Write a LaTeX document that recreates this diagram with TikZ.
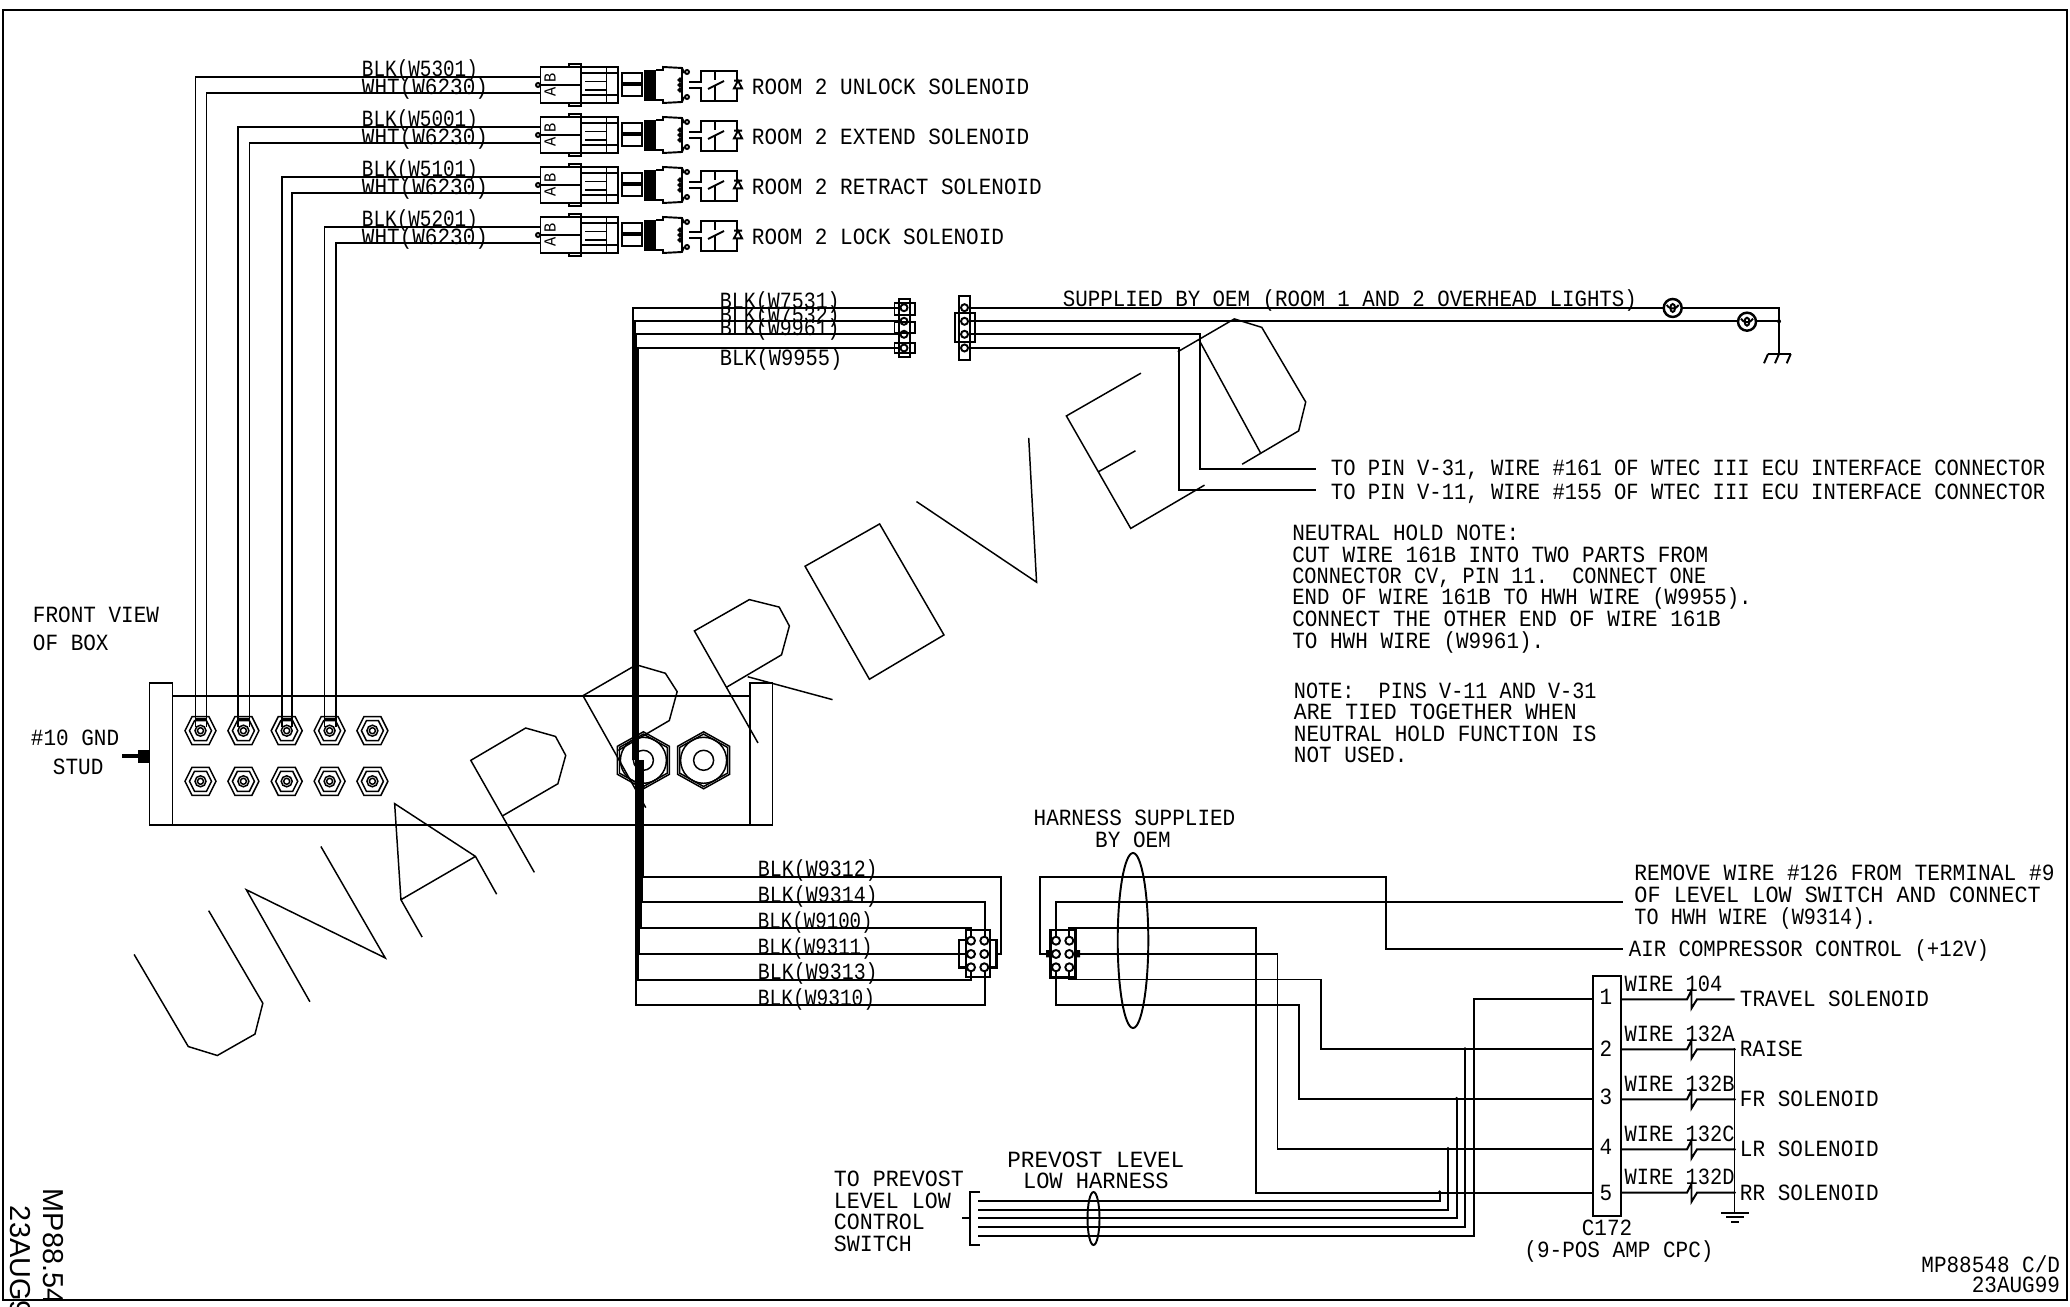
\documentclass[tikz,border=0pt]{standalone}
\usepackage{fontspec}
\setmonofont[FakeStretch=0.905]{Liberation Mono}
\setsansfont{Liberation Sans}
\usepackage{xcolor}
\usetikzlibrary{positioning}
\newcommand{\cadfont}{\ttfamily\fontsize{6.6}{7}\selectfont}
\newcommand{\sx}[2]{\scalebox{#1}[1]{#2}}
\tikzset{
	lbl/.style={inner sep=0pt, anchor=west, font=\cadfont, text height=4.35pt, text depth=0pt},
	midlbl/.style={lbl, anchor=center},
	heavy/.style={line width=0.8pt},
	fineline/.style={line width=0.42pt},
	solenoid/.pic={
		\draw (0.5,-18) rectangle (78,18);
		\draw (0.5,0) -- (40.6,0);
		\draw (40.6,-18) -- (40.6,18);
		\draw (29,-18) -- (29,-21) -- (40.6,-21) -- (40.6,-18);
		\draw (29,18) -- (29,21) -- (40.6,21) -- (40.6,18);
		\draw (40.6,-11.7) -- (78,-11.7) (40.6,10) -- (78,10);
		\draw (45,-3.5) -- (66.5,-3.5) (45,5) -- (66.5,5);
		\draw (66.5,-18) -- (66.5,18);
		\draw (-2,0) circle (2);
		\path (10,-7) node[rotate=90, inner sep=0pt, font=\ttfamily\fontsize{4.8}{5}\selectfont] (b) {B};
		\path (10,7) node[rotate=90, inner sep=0pt, font=\ttfamily\fontsize{4.8}{5}\selectfont] (a) {A};
		\draw (81.6,-12) rectangle (102,-2) (81.6,0) rectangle (102,11);
		\fill (104,-15) rectangle (116,15.7);
		\draw (116,-15) -- (123,-15) -- (123,-18) -- (142,-17) -- (144,-12) (144,12) -- (142,17) -- (123,18) -- (123,15) -- (116,15);
		\draw (142,-17) -- (142,17);
		\foreach \v in {-13,12} \draw (147,\v) circle (2);
		\foreach \v in {-5,0,5} \draw (140,\v) circle (1.6);
		\draw (149,-3) -- (161,-3) -- (161,-14.3) -- (197,-14.3) -- (197,15.7) -- (161,15.7) -- (161,3) -- (149,3);
		\draw (175,-14.3) -- (175,-5) (168,4) -- (184,-4) (175,0) -- (175,15.7);
		\fill[white] (194,-4) rectangle (202,3);
		\draw (194,3.3) -- (202,3.3) -- (198,-4.3) -- cycle (194,-4.3) -- (202,-4.3);
	},
	studnut/.pic={
		\draw[fineline] (-15.5,0) -- (-8.5,-14) -- (8.5,-14) -- (15.5,0) -- (8.5,14) -- (-8.5,14) -- cycle;
		\draw[fineline] (-11,0) -- (-6,-10) -- (6,-10) -- (11,0) -- (6,10) -- (-6,10) -- cycle;
		\draw[fineline] (0,0) circle (5.5) (0,0) circle (3);
	},
	bignut/.pic={
		\foreach \f in {1,0.92}
		\draw[fineline] (0,-28.5*\f) -- (26*\f,-14*\f) -- (26*\f,14*\f) -- (0,28.5*\f) -- (-26*\f,14*\f) -- (-26*\f,-14*\f) -- cycle;
		\draw[fineline] (0,0) circle (10);
	},
	lamp/.pic={
		\draw[fill=white, line width=0.7pt] (0,0) circle (9);
		\draw (-6,-3) arc (150:30:6.9);
		\draw (0,0) ellipse (2.4 and 4);
	},
}

\begin{document}
\begin{tikzpicture}[x=0.01cm, y=-0.01cm, line width=0.55pt]
	\useasboundingbox (0,0) rectangle (2070,1307);
	\draw[line width=0.6pt] (3,10) rectangle (2067,1300);

	% room 2 solenoids
	\foreach \y/\xo/\xi/\wa/\txt [count=\n] in {85/195.5/206.5/5301/UNLOCK, 135/238/249.5/5001/EXTEND, 185/281.6/292/5101/RETRACT, 235/324.5/335.7/5201/LOCK}{
		\pic (sol\n) at (540,\y) {solenoid};
		\coordinate (blkend\n) at (540,\y-8.3);
		\coordinate (whtend\n) at (540,\y+8.3);
		\draw (blkend\n) -- (\xo,\y-8.3) -- (\xo,727);
		\draw (whtend\n) -- (\xi,\y+8.3) -- (\xi,727);
		\draw (\xo,719) -- (\xi,719);
		\node[lbl] (blk\n) at (361,\y-16) {\sx{0.92}{BLK(W\wa)}};
		\node[lbl] (wht\n) at (361,\y+1.5) {WHT(W6230)};
		\node[lbl] (room\n) at (751,\y+2) {ROOM 2 \txt\ SOLENOID};
	}

	% box with the studs
	\draw (149.5,682.7) rectangle (172.5,825);
	\draw (750,682.7) rectangle (772.5,825);
	\draw (172.5,695.7) -- (750,695.7) (172.5,825) -- (750,825);
	\foreach \x in {200.5,243.4,286.7,329.6,372.4}{
		\pic at (\x,730.7) {studnut};
		\pic at (\x,781.3) {studnut};
	}
	\pic at (643.4,760.3) {bignut};
	\pic at (703.6,760.3) {bignut};
	\draw[fineline] (643.4,760.3) circle (23);
	\draw[fineline] (703.6,760.3) circle (23);
	\fill (122,754) rectangle (138,758);
	\fill (138,750) rectangle (149.5,763);
	\node[lbl] (front) at (32,615) {FRONT VIEW};
	\node[lbl] (ofbox) at (32,643) {OF BOX};
	\node[lbl] (gnd) at (30,738) {\#10 GND};
	\node[lbl] (stud) at (52,767) {STUD};

	% upper pair of connectors
	\foreach \y [count=\n] in {307.7,321.3,334.3,348}{
		\coordinate (tl\n) at (899,\y);
		\coordinate (tr\n) at (970,\y);
		\draw (904,\y) circle (3.5) (964.5,\y) circle (3.5);
	}
	\draw[heavy] (899,299) rectangle (910,357);
	\draw (894.5,303) rectangle (914.6,315) (894.5,322) rectangle (914.6,333) (894.5,343) rectangle (914.6,353);
	\draw (959,296) rectangle (970,360);
	\draw (955,313) rectangle (975,342);
	\draw (tl1) -- (633.4,307.7) -- (633.4,760);
	\draw (tl2) -- (635,321.3) -- (635,760);
	\draw (tl3) -- (636.5,334.3) -- (636.5,760);
	\draw (tl4) -- (638,348) -- (638,760);
	\coordinate (gndtop) at (1779,354);
	\coordinate (pin31end) at (1316,469);
	\coordinate (pin11end) at (1316,490);
	\draw (tr1) -- (1779,307.7) -- (gndtop);
	\draw (tr2) -- (1779,321.3);
	\draw (tr3) -- (1200.4,334.3) -- (1200.4,469) -- (pin31end);
	\draw (tr4) -- (1179,348) -- (1179,490) -- (pin11end);
	\fill (1779,321.3) circle (2);
	\pic at (1672.7,308) {lamp};
	\pic at (1747,321.7) {lamp};
	\draw (1768,354) -- (1790.7,354);
	\foreach \x in {1768,1779,1790.7} \draw (\x,354) -- (\x-4,363.3);
	\node[lbl] (lbl7531) at (719,300.7) {\sx{0.95}{BLK(W7531)}};
	\node[lbl] (lbl7532) at (719,315) {\sx{0.95}{BLK(W7532)}};
	\node[lbl] (lbl9961) at (719,328.3) {\sx{0.95}{BLK(W9961)}};
	\node[lbl] (lbl9955) at (719,358.3) {\sx{0.97}{BLK(W9955)}};
	\node[lbl] (oem) at (1062,299.3) {\sx{0.99}{SUPPLIED BY OEM (ROOM 1 AND 2 OVERHEAD LIGHTS)}};
	\node[lbl] (pin31) at (1330,468) {\sx{0.977}{TO PIN V-31, WIRE \#161 OF WTEC III ECU INTERFACE CONNECTOR}};
	\node[lbl] (pin11) at (1330,491.7) {\sx{0.977}{TO PIN V-11, WIRE \#155 OF WTEC III ECU INTERFACE CONNECTOR}};

	% notes
	\foreach \y/\fac/\txt [count=\n] in {533.3/1/{NEUTRAL HOLD NOTE:}, 555/1/{CUT WIRE 161B INTO TWO PARTS FROM}, 576/0.966/{CONNECTOR CV, PIN 11.~ CONNECT ONE}, 597/0.985/{END OF WIRE 161B TO HWH WIRE (W9955).}, 619/1/{CONNECT THE OTHER END OF WIRE 161B}, 640.7/1/{TO HWH WIRE (W9961).}}
		\node[lbl] (hold\n) at (1291.3,\y) {\sx{\fac}{\txt}};
	\foreach \y/\fac/\txt [count=\n] in {690.7/0.96/{NOTE:~ PINS V-11 AND V-31}, 712/1.02/{ARE TIED TOGETHER WHEN}, 734/1/{NEUTRAL HOLD FUNCTION IS}, 755/1/{NOT USED.}}
		\node[lbl] (note\n) at (1293,\y) {\sx{\fac}{\txt}};

	% lower pair of connectors
	\draw[heavy] (959,940) rectangle (996.7,967.3);
	\draw[fill=white] (965.7,930) rectangle (990,977.3);
	\draw[heavy] (1050.7,930) rectangle (1075.7,977.3);
	\fill (1046,950) rectangle (1050.7,957.4) (1075.7,950) rectangle (1080,957.4);
	\foreach \y in {940.7,954,967.3}
		\foreach \x in {971,984.3,1056,1069.3}
			\draw (\x,\y) circle (4);
	\coordinate (ll1) at (996.7,953.7);
	\coordinate (ll2) at (984.7,936.7);
	\coordinate (ll3) at (971,936.7);
	\coordinate (ll4) at (967,953.7);
	\coordinate (ll5) at (971,971.3);
	\coordinate (ll6) at (984.7,971.3);
	\draw (642.7,760) -- (642.7,876.7) -- (1000.7,876.7) -- (1000.7,953.7) -- (ll1);
	\draw (642,760) -- (642,902.3) -- (984.7,902.3) -- (ll2);
	\draw (641,760) -- (641,928.3) -- (971,928.3) -- (ll3);
	\draw (639.5,760) -- (639.5,953.7) -- (ll4);
	\draw (638,760) -- (638,979.7) -- (971,979.7) -- (ll5);
	\draw (636,760) -- (636,1005) -- (984.7,1005) -- (ll6);
	\foreach \y/\wa/\fac [count=\n] in {869.3/9312/0.95, 895/9314/0.95, 920.7/9100/0.91, 946.7/9311/0.91, 972.3/9313/0.95, 998.3/9310/0.93}
		\node[lbl] (lower\n) at (757,\y) {\sx{\fac}{BLK(W\wa)}};
	\draw (1133,940.5) ellipse (15.3 and 87.5);
	\node[midlbl] (harness) at (1134.5,817.7) {HARNESS SUPPLIED};
	\node[midlbl] (byoem) at (1133,840) {BY OEM};

	% C172 and its pins
	\node[draw, inner sep=0pt, minimum width=0.276cm, minimum height=2.397cm] (c172) at (1607.2,1095.85) {};
	\foreach \y/\ly/\wn/\txt [count=\n] in {999.3/996.7/104/TRAVEL SOLENOID, 1049.3/1049.3/132A/RAISE, 1099.3/1097.3/132B/FR SOLENOID, 1149.3/1146.7/132C/LR SOLENOID, 1192.7/1192.7/132D/RR SOLENOID}{
		\coordinate (inpin\n) at (1593.4,\y);
		\coordinate (outpin\n) at (1621,\y);
		\node[midlbl] (num\n) at (1606,\ly) {\n};
		\draw (outpin\n) -- (1687,\y) -- (1691.5,\y-9) -- (1691.5,\y+9) -- (1697,\y) -- (1734.5,\y);
		\node[lbl] (wire\n) at (1623.6,\y-15.5) {\sx{0.97}{WIRE \wn}};
		\node[lbl] (load\n) at (1739,\y) {\txt};
	}
	\foreach \y in {1049.3,1099.3,1149.3,1192.7} \fill (1734.5,\y) circle (1.5);
	\coordinate (gndbus) at (1734.5,1212.7);
	\draw (1734.5,1049.3) -- (gndbus);
	\draw (1721,1212.7) -- (1749,1212.7) (1726,1217) -- (1744,1217) (1731,1221.7) -- (1739,1221.7);
	\node[midlbl] (c172name) at (1607,1227.7) {C172};
	\node[midlbl] (amp) at (1619,1250) {(9-POS AMP CPC)};

	% harness into C172
	\coordinate (rr1) at (1050.7,953.7);
	\draw (rr1) -- (1040,953.7) -- (1040,876.7) -- (1385.7,876.7) -- (1385.7,949) -- (1622.5,949);
	\draw (1056,936.7) -- (1056,902.3) -- (1622.5,902.3);
	\draw (1069.3,936.7) -- (1069.3,928.3) -- (1255.7,928.3) -- (1255.7,1192.7) -- (inpin5);
	\draw (1073,953.7) -- (1277.5,953.7) -- (1277.5,1149.3) -- (inpin4);
	\draw (1069.3,971.3) -- (1069.3,979.5) -- (1320.8,979.5) -- (1320.8,1049.3) -- (inpin2);
	\draw (1056,971.3) -- (1056,1005) -- (1299,1005) -- (1299,1099.3) -- (inpin3);
	\node[lbl] (remove1) at (1633.5,873.3) {\sx{1.01}{REMOVE WIRE \#126 FROM TERMINAL \#9}};
	\node[lbl] (remove2) at (1633.5,895) {\sx{1.04}{OF LEVEL LOW SWITCH AND CONNECT}};
	\node[lbl] (remove3) at (1633.5,916.7) {\sx{0.96}{TO HWH WIRE (W9314).}};
	\node[lbl] (air) at (1628,949) {\sx{0.985}{AIR COMPRESSOR CONTROL (+12V)}};

	% prevost harness
	\draw (978,1201.3) -- (1439.6,1201.3) -- (1439.6,1191.7);
	\draw (978,1209.7) -- (1448,1209.7) -- (1448,1148.3);
	\draw (978,1218.3) -- (1456.6,1218.3) -- (1456.6,1098.3);
	\draw (978,1227) -- (1465,1227) -- (1465,1048.7);
	\draw (978,1235.7) -- (1473.6,1235.7) -- (1473.6,999.3) -- (inpin1);
	\foreach \x/\y in {1439.6/1191.7,1448/1148.3,1456.6/1098.3,1465/1048.7} \fill (\x,\y) circle (1.5);
	\draw (980,1192.3) -- (970,1192.3) -- (970,1244.7) -- (980,1244.7) (970,1218) -- (962,1218);
	\draw (1093.5,1218.5) ellipse (6 and 26.5);
	\node[midlbl] (prevost1) at (1095.8,1160) {\sx{1.08}{PREVOST LEVEL}};
	\node[midlbl] (prevost2) at (1095.8,1181) {\sx{1.05}{LOW HARNESS}};
	\foreach \y/\txt [count=\n] in {1179/TO PREVOST, 1201/LEVEL LOW, 1222/CONTROL, 1244/SWITCH}
		\node[lbl] (tolow\n) at (833,\y) {\sx{1.03}{\txt}};
	\node[lbl, anchor=east] (drawno) at (2061,1265) {MP88548 C/D};
	\node[lbl, anchor=east] (drawdate) at (2061,1285) {23AUG99};

	% stamp across the sheet, numbers read off a crop
	\begin{scope}[shift={(120,300)}, x=0.00784cm, y=-0.004975cm, fineline]
		\draw (18,1315) -- (87,1500) -- (124,1518) -- (172,1475) -- (182,1413) -- (113,1227);
		\draw (242,1410) -- (161,1185) -- (338,1322) -- (256,1098);
		\draw (385,1280) -- (358,1205) -- (350,1012) -- (453,1118) -- (480,1194) (358,1205) -- (453,1118);
		\draw (528,1150) -- (447,925) -- (517,860) -- (555,877) -- (568,915) -- (558,972) -- (488,1036);
		\draw (670,1020) -- (590,795) -- (658,733) -- (695,750) -- (710,787) -- (700,845) -- (635,905);
		\draw (813,890) -- (732,665) -- (802,602) -- (840,617) -- (853,655) -- (843,713) -- (773,778) (800,757) -- (908,803);
		\draw (873,535) -- (968,450) -- (1050,673) -- (955,762) -- cycle;
		\draw (1015,405) -- (1168,567) -- (1158,277);
		\draw (1301,147) -- (1206,233) -- (1288,459) -- (1382,372) (1247,345) -- (1294,303);
		\draw (1430,330) -- (1502,263) -- (1511,205) -- (1455,55) -- (1420,38) -- (1348,104) (1375,80) -- (1453,306);
	\end{scope}

	% file stamp on the left edge
	\begin{scope}
		\clip (0,1000) rectangle (70,1298);
		\node[rotate=-90, anchor=base west, inner sep=0pt, font=\sffamily\fontsize{8.2}{9}\selectfont] (mpside) at (43,1188) {MP88.54};
	\end{scope}
	\node[rotate=-90, anchor=base west, inner sep=0pt, font=\sffamily\fontsize{8.2}{9}\selectfont] (dateside) at (10,1205) {23AUG9};
\end{tikzpicture}
\end{document}
